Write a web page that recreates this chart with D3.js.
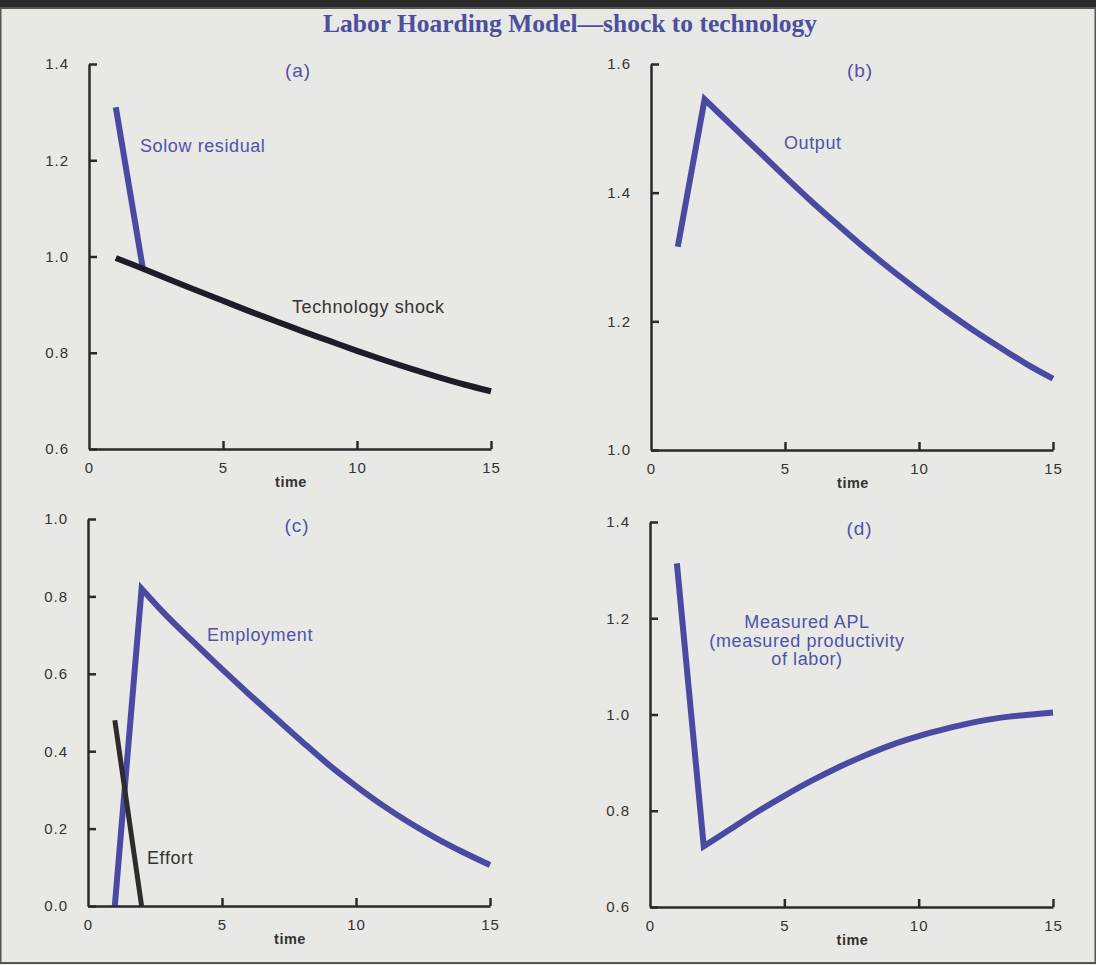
<!DOCTYPE html>
<html>
<head>
<meta charset="utf-8">
<script src="https://cdn.jsdelivr.net/npm/d3@7"></script>
<style>
  body { margin: 0; background: #e8e8e5; }
  svg text { font-family: "Liberation Sans", Arial, Helvetica, sans-serif; }
</style>
</head>
<body>
<svg id="chart" width="1096" height="965"></svg>
<script>
// values, time = 1..15
const time = [1, 2, 3, 4, 5, 6, 7, 8, 9, 10, 11, 12, 13, 14, 15];
const techShock = [0.997, 0.975, 0.952, 0.93, 0.908, 0.886, 0.865, 0.844, 0.824, 0.804, 0.785, 0.767, 0.75, 0.734, 0.72];
const solowTime = [1, 2];
const solowResidual = [1.31, 0.978];
const output = [1.316, 1.545, 1.505, 1.465, 1.425, 1.386, 1.349, 1.313, 1.279, 1.247, 1.216, 1.187, 1.16, 1.134, 1.111];
const employment = [0, 0.82, 0.745, 0.678, 0.612, 0.548, 0.486, 0.424, 0.364, 0.31, 0.26, 0.215, 0.175, 0.139, 0.106];
const effortTime = [1, 2];
const effort = [0.48, 0];
const apl = [1.314, 0.726, 0.762, 0.798, 0.831, 0.862, 0.89, 0.915, 0.937, 0.955, 0.97, 0.983, 0.993, 0.999, 1.004];

const xTicks = [0, 5, 10, 15];
const yTicksA = [0.6, 0.8, 1.0, 1.2, 1.4];
const yTicksB = [1.0, 1.2, 1.4, 1.6];
const yTicksC = [0.0, 0.2, 0.4, 0.6, 0.8, 1.0];
const yTicksD = [0.6, 0.8, 1.0, 1.2, 1.4];

const blue = "#4a4aa2";
const ink = "#1d1d28";
const axisInk = "#2a2a2a";

const svg = d3.select("#chart");

// paper + frame
svg.append("rect").attr("x", 0).attr("y", 0).attr("width", 1096).attr("height", 965).attr("fill", "#e8e8e5");
svg.append("rect").attr("x", 0).attr("y", 0).attr("width", 1096).attr("height", 8).attr("fill", "#2b2b2b");
svg.append("rect").attr("x", 0.5).attr("y", 8).attr("width", 1095).attr("height", 955)
  .attr("fill", "none").attr("stroke", "#555").attr("stroke-width", 2);

svg.append("text")
  .attr("x", 570).attr("y", 32)
  .attr("text-anchor", "middle")
  .style("font-family", '"Liberation Serif", "Times New Roman", serif')
  .style("font-weight", "bold")
  .style("font-size", "25.5px")
  .attr("fill", "#4b4f9e")
  .text("Labor Hoarding Model\u2014shock to technology");

const panels = [
  {
    tag: "(a)", x: [89, 491], y: [449, 64], domain: [0.6, 1.4], yTicks: yTicksA,
    series: [
      { t: solowTime, v: solowResidual, color: blue, w: 6 },
      { t: time, v: techShock, color: ink, w: 6 }
    ],
    labels: [
      { text: ["Solow residual"], x: 140, y: 152, anchor: "start", color: "#5052a8" },
      { text: ["Technology shock"], x: 292, y: 313, anchor: "start", color: "#333" }
    ]
  },
  {
    tag: "(b)", x: [651, 1053], y: [450, 64], domain: [1.0, 1.6], yTicks: yTicksB,
    series: [
      { t: time, v: output, color: blue, w: 6 }
    ],
    labels: [
      { text: ["Output"], x: 784, y: 149, anchor: "start", color: "#5052a8" }
    ]
  },
  {
    tag: "(c)", x: [88, 490], y: [906, 519], domain: [0, 1.0], yTicks: yTicksC,
    series: [
      { t: time, v: employment, color: blue, w: 6 },
      { t: effortTime, v: effort, color: "#2c2c2c", w: 5 }
    ],
    labels: [
      { text: ["Employment"], x: 207, y: 641, anchor: "start", color: "#5052a8" },
      { text: ["Effort"], x: 147, y: 864, anchor: "start", color: "#333" }
    ]
  },
  {
    tag: "(d)", x: [650, 1053], y: [907, 522], domain: [0.6, 1.4], yTicks: yTicksD,
    series: [
      { t: time, v: apl, color: blue, w: 6 }
    ],
    labels: [
      { text: ["Measured APL", "(measured productivity", "of labor)"], x: 807, y: 628, anchor: "middle", color: "#5052a8" }
    ]
  }
];

panels.forEach(p => {
  const x = d3.scaleLinear().domain([0, 15]).range(p.x);
  const y = d3.scaleLinear().domain(p.domain).range(p.y);
  const g = svg.append("g");

  const straight = d3.line().x(d => x(d[0])).y(d => y(d[1]));
  const smooth = d3.line().x(d => x(d[0])).y(d => y(d[1])).curve(d3.curveMonotoneX);

  // data lines: first step (the shock) is a straight jump, the rest is a smooth path
  p.series.forEach(s => {
    const pts = s.t.map((t, i) => [t, s.v[i]]);
    let d;
    if (pts.length > 3) {
      d = straight(pts.slice(0, 2)) + smooth(pts.slice(1)).replace(/^M/, "L");
    } else {
      d = straight(pts);
    }
    g.append("path")
      .attr("fill", "none")
      .attr("stroke", s.color)
      .attr("stroke-width", s.w)
      .attr("stroke-linejoin", "miter")
      .attr("stroke-linecap", "butt")
      .attr("d", d);
  });

  // axes with inward ticks
  const yAxis = g.append("g")
    .attr("transform", `translate(${p.x[0]},0)`)
    .call(d3.axisLeft(y).tickValues(p.yTicks).tickFormat(d3.format(".1f"))
      .tickSizeInner(-8).tickSizeOuter(0).tickPadding(20));
  const xAxis = g.append("g")
    .attr("transform", `translate(0,${p.y[0]})`)
    .call(d3.axisBottom(x).tickValues(xTicks).tickFormat(d3.format("d"))
      .tickSizeInner(-8).tickSizeOuter(0).tickPadding(13));

  [yAxis, xAxis].forEach(a => {
    a.select(".domain").attr("stroke", axisInk).attr("stroke-width", 2.5);
    a.selectAll(".tick line").attr("stroke", axisInk).attr("stroke-width", 2.5);
    a.selectAll(".tick text")
      .attr("fill", "#333")
      .style("font-size", "15px")
      .style("letter-spacing", "1px");
  });
  xAxis.selectAll(".tick").filter(d => d === 0).select("line").remove();

  g.append("text")
    .attr("x", (p.x[0] + p.x[1]) / 2 + 1)
    .attr("y", p.y[0] + 38)
    .attr("text-anchor", "middle")
    .attr("fill", "#333")
    .style("font-size", "14.5px")
    .style("font-weight", "bold")
    .style("letter-spacing", "0.5px")
    .text("time");

  g.append("text")
    .attr("x", (p.x[0] + p.x[1]) / 2 + 8)
    .attr("y", p.y[1] + 13)
    .attr("text-anchor", "middle")
    .attr("fill", "#5052a8")
    .style("font-size", "19px")
    .style("letter-spacing", "1px")
    .text(p.tag);

  p.labels.forEach(l => {
    const t = g.append("text")
      .attr("x", l.x).attr("y", l.y)
      .attr("text-anchor", l.anchor)
      .attr("fill", l.color)
      .style("font-size", "18px")
      .style("letter-spacing", "0.6px");
    l.text.forEach((line, i) => {
      t.append("tspan").attr("x", l.x).attr("dy", i === 0 ? 0 : 18.5).text(line);
    });
  });
});
</script>
</body>
</html>
